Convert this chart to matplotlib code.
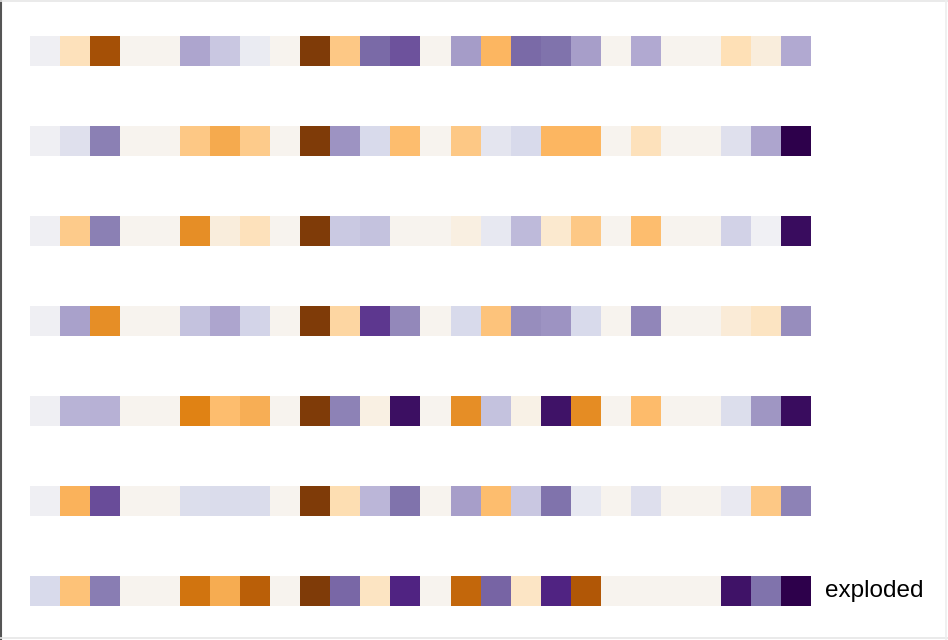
import numpy as np
import matplotlib
matplotlib.use("Agg")
import matplotlib.pyplot as plt
from matplotlib.lines import Line2D

# value per cell, -1 = dark orange/brown, +1 = dark purple (PuOr)
row1 = [0.05, -0.18, -0.85, -0.03, -0.03, 0.42, 0.28, 0.08, -0.03, -1.0, -0.32, 0.62, 0.68,
        -0.03, 0.45, -0.40, 0.62, 0.60, 0.44, -0.03, 0.40, -0.03, -0.03, -0.20, -0.08, 0.40]
row2 = [0.05, 0.15, 0.55, -0.03, -0.03, -0.32, -0.45, -0.30, -0.03, -1.0, 0.48, 0.20, -0.37,
        -0.03, -0.32, 0.12, 0.20, -0.40, -0.40, -0.03, -0.18, -0.03, -0.03, 0.15, 0.42, 1.0]
row3 = [0.05, -0.30, 0.55, -0.03, -0.03, -0.55, -0.08, -0.18, -0.03, -1.0, 0.27, 0.30, -0.03,
        -0.03, -0.07, 0.10, 0.33, -0.12, -0.32, -0.03, -0.37, -0.03, -0.03, 0.23, 0.04, 0.93]
row4 = [0.05, 0.43, -0.55, -0.03, -0.03, 0.30, 0.42, 0.22, -0.03, -1.0, -0.25, 0.75, 0.52,
        -0.03, 0.20, -0.34, 0.50, 0.48, 0.20, -0.03, 0.53, -0.03, -0.03, -0.10, -0.16, 0.50]
row5 = [0.05, 0.36, 0.37, -0.03, -0.03, -0.60, -0.37, -0.43, -0.03, -1.0, 0.54, -0.06, 0.92,
        -0.03, -0.55, 0.30, -0.05, 0.90, -0.56, -0.03, -0.38, -0.03, -0.03, 0.17, 0.47, 0.93]
row6 = [0.05, -0.42, 0.70, -0.03, -0.03, 0.17, 0.18, 0.18, -0.03, -1.0, -0.21, 0.35, 0.60,
        -0.03, 0.44, -0.37, 0.28, 0.60, 0.10, -0.03, 0.16, -0.03, -0.03, 0.09, -0.32, 0.54]
row7 = [0.20, -0.35, 0.56, -0.03, -0.03, -0.66, -0.44, -0.76, -0.03, -1.0, 0.63, -0.16, 0.82,
        -0.03, -0.72, 0.64, -0.15, 0.82, -0.80, -0.03, -0.03, -0.03, -0.03, 0.90, 0.60, 1.0]

rows = [row1, row2, row3, row4, row5, row6, row7]
row_labels = ["", "", "", "", "", "", "exploded"]

W, H = 948, 640
fig = plt.figure(figsize=(W / 100, H / 100), dpi=100)
fig.patch.set_facecolor("white")

for i, (vals, lab) in enumerate(zip(rows, row_labels)):
    top = 36 + 90 * i
    ax = fig.add_axes([30 / W, 1 - (top + 30) / H, 780 / W, 30 / H])
    ax.imshow(np.array(vals)[None, :], cmap="PuOr", vmin=-1, vmax=1,
              aspect="auto", interpolation="nearest")
    ax.set_axis_off()
    if lab:
        ax.text(1.0 + 15 / 780, 0.5, lab, transform=ax.transAxes, ha="left", va="center",
                fontsize=17.5, family="Liberation Sans", color="black")

# frame around the picture
fig.add_artist(Line2D([1 / W, 1 / W], [0, 1], transform=fig.transFigure, color="#555555", lw=1.5))
fig.add_artist(Line2D([0, 1], [1 - 1 / H, 1 - 1 / H], transform=fig.transFigure, color="#e6e6e6", lw=1.2))
fig.add_artist(Line2D([0, 1], [2 / H, 2 / H], transform=fig.transFigure, color="#e6e6e6", lw=1.2))
fig.add_artist(Line2D([1 - 2 / W, 1 - 2 / W], [0, 1], transform=fig.transFigure, color="#eeeeee", lw=1.2))

fig.savefig("out.png", dpi=100, facecolor="white")
